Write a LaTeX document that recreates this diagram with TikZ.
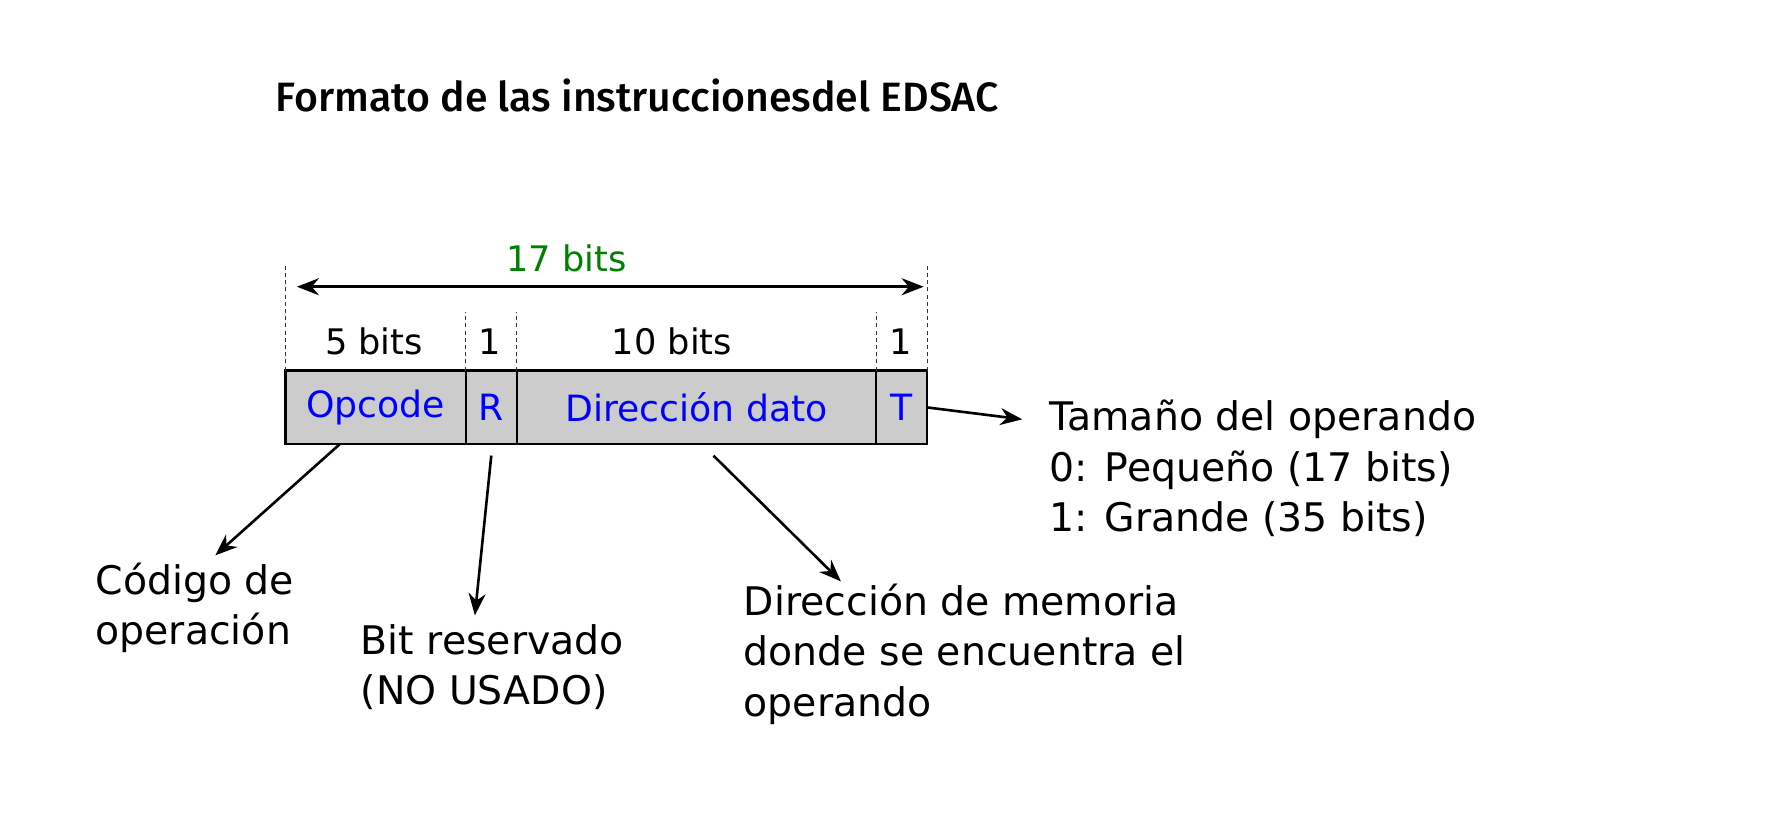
\documentclass[tikz,border=0pt]{standalone}
\usepackage{fontspec}
\setmainfont{DejaVu Sans}
\newfontfamily\titlefont{Fira Sans Medium}
\usetikzlibrary{arrows.meta,positioning,calc}
\definecolor{verde}{RGB}{0,128,0}
\def\pxu{0.5667pt}
\tikzset{
    cell/.style={draw, line width=1.2pt, fill=black!20, minimum height=65*\pxu,
        inner sep=0pt, outer sep=0pt, text=blue, font=\fontsize{18.1}{22}\selectfont},
    bitlabel/.style={anchor=base, inner sep=0pt, font=\fontsize{17.6}{21}\selectfont},
    note/.style={anchor=base west, inner sep=0pt, align=left,
        font=\fontsize{19.7}{25.2}\selectfont},
    guide/.style={dash pattern=on 2pt off 1.6pt, line width=0.5pt, black!80},
    pointer/.style={-{Stealth[length=11pt,width=8.5pt]}, line width=1.3pt},
}
\begin{document}
\begin{tikzpicture}[x=\pxu, y=-\pxu]
    \useasboundingbox (0,0) rectangle (1568,731);

    % Titulo
    \node[anchor=base west, inner sep=0pt, font=\titlefont\fontsize{20.5}{24}\selectfont]
        (titulo) at (243,98) {Formato de las instruccionesdel EDSAC};

    % Campos de la instruccion
    \node[cell, minimum width=159*\pxu] (opcode) at (331.5,359.5) {Opcode};
    \node[cell, minimum width=45*\pxu, right=0pt of opcode] (rbit) {R};
    \node[cell, minimum width=317*\pxu, right=0pt of rbit] (dir) {Dirección dato};
    \node[cell, minimum width=45*\pxu, right=0pt of dir] (tbit) {T};

    % Lineas guia
    \draw[guide] (opcode.north west) -- ++(0,-92);
    \draw[guide] (tbit.north east) -- ++(0,-92);
    \draw[guide] (opcode.north east) -- ++(0,-52);
    \draw[guide] (rbit.north east) -- ++(0,-52);
    \draw[guide] (dir.north east) -- ++(0,-52);

    % Tamano total
    \coordinate (izq) at (262,253);
    \coordinate (der) at (815,253);
    \draw[{Stealth[length=11pt,width=8.5pt]}-{Stealth[length=11pt,width=8.5pt]}, line width=1.3pt] (izq) -- (der);
    \node[bitlabel, text=verde] (total) at (500,240) {17 bits};

    % Bits por campo
    \node[bitlabel] (nop) at (330,313) {5 bits};
    \node[bitlabel] (nr) at (432,313) {1};
    \node[bitlabel] (ndir) at (593,313) {10 bits};
    \node[bitlabel] (nt) at (795,313) {1};

    % Notas
    \node[note] (codigo) at (84,569) {Código de\\operación};
    \node[note] (reservado) at (318,622) {Bit reservado\\(NO USADO)};
    \node[note] (memoria) at (656,632) {Dirección de memoria\\donde se encuentra el\\operando};
    \node[note] (tamano) at (926,469) {Tamaño del operando\\0: Pequeño (17 bits)\\1: Grande (35 bits)};

    % Flechas
    \coordinate (pcodigo) at (190,490);
    \coordinate (preservado) at (419,543);
    \coordinate (pmemoria) at (742,513);
    \coordinate (ptamano) at (902,370);
    \draw[pointer] ($(opcode.south west)!0.3!(opcode.south east)$) -- (pcodigo);
    \draw[pointer] ($(rbit.south)+(0,10)$) -- (preservado);
    \draw[pointer] ($(dir.south)+(15,10)$) -- (pmemoria);
    \draw[pointer] (tbit.east) -- (ptamano);
\end{tikzpicture}
\end{document}
